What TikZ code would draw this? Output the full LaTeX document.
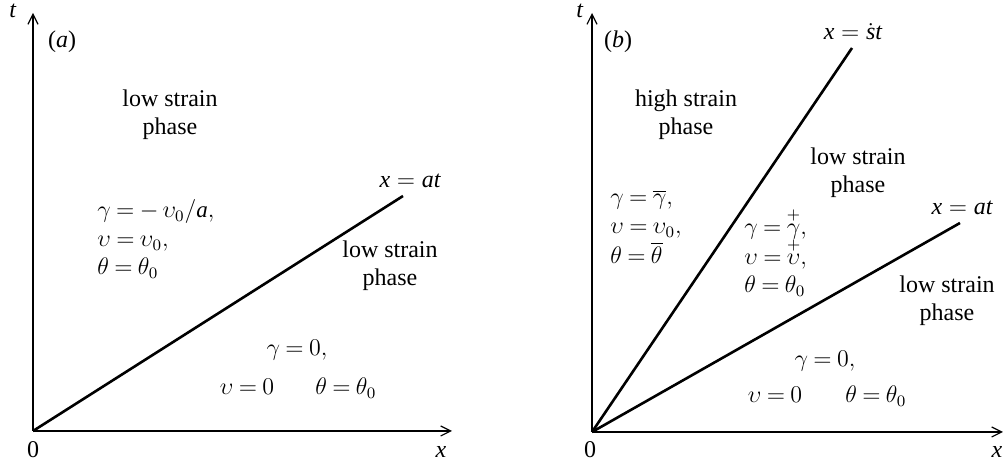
\documentclass[tikz,border=0pt]{standalone}
\usepackage{amsmath}
\usepackage{fontspec}
\setmainfont{Liberation Serif}
\usetikzlibrary{arrows.meta}
\newcommand\mytightmath{\thickmuskip=4mu plus 2mu\relax\medmuskip=3mu\relax}
\begin{document}
\begin{tikzpicture}[x=0.5pt,y=-0.5pt,
  axis/.style={line width=0.6pt,-{Straight Barb[length=5pt,width=5pt]}},
  ray/.style={line width=1.3pt},
  txt/.style={font=\fontsize{12}{14}\selectfont,inner sep=0pt,anchor=base,align=center},
  mth/.style={font=\fontsize{11.5}{14}\selectfont\mytightmath,inner sep=0pt,anchor=base},
  lft/.style={mth,anchor=base west}]
\useasboundingbox (0,0) rectangle (1003,464);
% ---------- panel (a)
\coordinate (Oa) at (33,431);
\coordinate (Ta) at (33,13);
\coordinate (Xa) at (452,431);
\coordinate (Ea) at (403,196);
\draw[axis] (Oa) -- (Ta);
\draw[axis] (Oa) -- (Xa);
\draw[ray] (Oa) -- (Ea);
\node[txt] (ta) at (13,18) {\textit{t}};
\node[txt] (za) at (33,458) {0};
\node[txt] (xa) at (441,458) {\textit{x}};
\node[txt] (pa) at (62,48) {(\textit{a})};
\node[txt] (la1) at (170,135) {low strain\\phase};
\node[txt] (la2) at (390,286) {low strain\\phase};
\node[txt] (ra) at (410,188) {$\mathit{x} = \mathit{at}$};
\node[lft] (ga1) at (97,218) {$\gamma = -\,\upsilon_0/\mathit{a},$};
\node[lft] (ga2) at (97,247) {$\upsilon = \upsilon_0,$};
\node[lft] (ga3) at (97,275) {$\theta = \theta_0$};
\node[mth] (ga4) at (297,356) {$\gamma = 0,$};
\node[mth] (ga5) at (247,395) {$\upsilon = 0$};
\node[lft] (ga6) at (315,395) {$\theta = \theta_0$};
% ---------- panel (b)
\coordinate (Ob) at (592,432);
\coordinate (Tb) at (592,13);
\coordinate (Xb) at (1003,432);
\coordinate (Sb) at (852,48);
\coordinate (Eb) at (960,223);
\draw[axis] (Ob) -- (Tb);
\draw[axis] (Ob) -- (Xb);
\draw[ray] (Ob) -- (Sb);
\draw[ray] (Ob) -- (Eb);
\node[txt] (tb) at (580,18) {\textit{t}};
\node[txt] (zb) at (590,458) {0};
\node[txt] (xb) at (997,458) {\textit{x}};
\node[txt] (pb) at (618,48) {(\textit{b})};
\node[txt] (rs) at (853,40) {$\mathit{x} = \dot{\mathit{s}}\mathit{t}$};
\node[txt] (hb) at (686,135) {high strain\\phase};
\node[txt] (lb1) at (858,193) {low strain\\phase};
\node[txt] (rb) at (962,215) {$\mathit{x} = \mathit{at}$};
\node[txt] (lb2) at (947,321) {low strain\\phase};
\node[lft] (gb1) at (610,205) {$\gamma = \overline{\gamma},$};
\node[lft] (gb2) at (610,234) {$\upsilon = \upsilon_0,$};
\node[lft] (gb3) at (610,264) {$\theta = \overline{\theta}$};
\node[lft] (gc1) at (744,235) {$\gamma = \overset{+}{\gamma},$};
\node[lft] (gc2) at (744,265) {$\upsilon = \overset{+}{\upsilon},$};
\node[lft] (gc3) at (744,293) {$\theta = \theta_0$};
\node[mth] (gb4) at (825,367) {$\gamma = 0,$};
\node[mth] (gb5) at (775,403) {$\upsilon = 0$};
\node[lft] (gb6) at (845,403) {$\theta = \theta_0$};
\end{tikzpicture}
\end{document}
